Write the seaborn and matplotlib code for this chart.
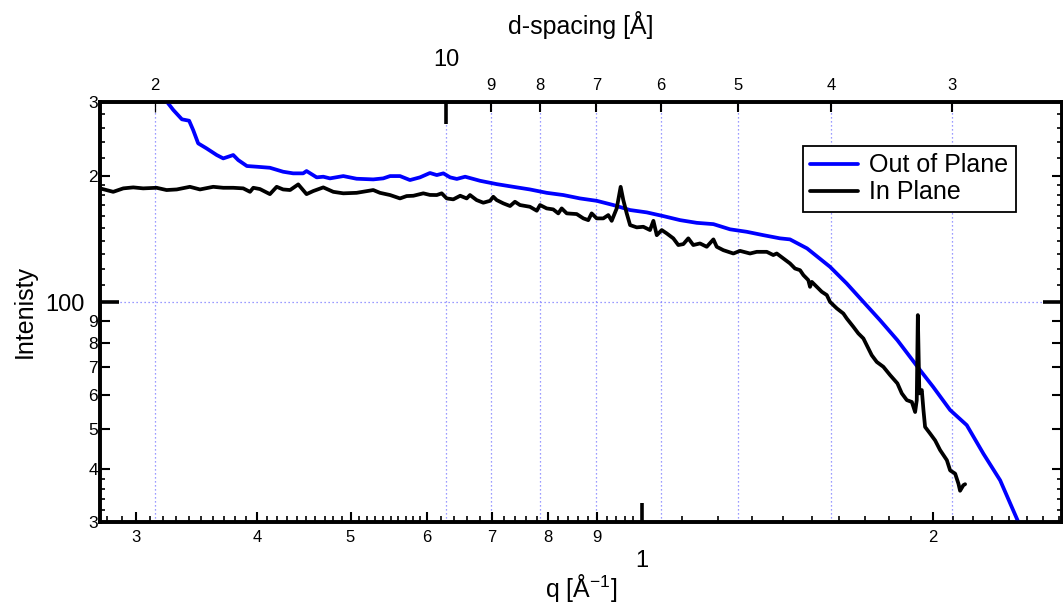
import numpy as np
import matplotlib
matplotlib.use("Agg")
import matplotlib.pyplot as plt
import seaborn as sns
from matplotlib.ticker import FixedLocator, FixedFormatter, NullFormatter, NullLocator

# ---------------- data ----------------
q_oop = [0.3176, 0.3279, 0.3347, 0.3405, 0.3438, 0.3479, 0.3549, 0.3636, 0.3693, 0.3737,
         0.3782, 0.3827, 0.3907, 0.3999, 0.4127, 0.4259, 0.4362, 0.4467, 0.4503, 0.4613,
         0.4686, 0.4761, 0.4915, 0.5073, 0.5278, 0.5405, 0.5494, 0.5625, 0.5760, 0.5899,
         0.6041, 0.6140, 0.6237, 0.6338, 0.6440, 0.6569, 0.6807, 0.7081, 0.7366, 0.7664,
         0.7976, 0.8299, 0.8634, 0.8985, 0.9348, 0.9728, 1.0121, 1.0529, 1.0957, 1.1400,
         1.1862, 1.2342, 1.2841, 1.3360, 1.3901, 1.4234, 1.4825, 1.5658, 1.6293, 1.6952,
         1.7640, 1.8383, 1.8946, 1.9405, 2.0014, 2.0840, 2.1681, 2.2560, 2.3476, 2.4421,
         2.4622]
I_oop = [315.0, 286.7, 272.4, 270.3, 256.8, 238.8, 232.3, 224.0, 219.9, 221.9,
         224.0, 217.9, 210.9, 210.1, 208.9, 204.4, 202.6, 202.6, 205.2, 198.2,
         198.9, 197.1, 199.6, 196.7, 196.0, 197.1, 199.6, 199.6, 195.3, 198.2,
         203.0, 200.7, 202.6, 198.2, 196.5, 198.9, 194.5, 191.0, 188.2, 185.5,
         182.1, 179.9, 176.6, 174.3, 170.3, 165.7, 163.6, 160.3, 156.8, 154.5,
         153.4, 149.1, 147.1, 144.4, 141.9, 141.1, 134.3, 121.4, 110.8, 100.2,
         90.6, 81.2, 74.1, 68.9, 62.9, 55.4, 51.0, 43.6, 37.7, 30.6,
         29.3]

q_ip = [0.2754, 0.2842, 0.2911, 0.2981, 0.3052, 0.3151, 0.3227, 0.3306, 0.3411, 0.3494,
        0.3606, 0.3693, 0.3782, 0.3873, 0.3936, 0.3967, 0.4030, 0.4127, 0.4194, 0.4259,
        0.4330, 0.4415, 0.4503, 0.4576, 0.4686, 0.4799, 0.4915, 0.5073, 0.5278, 0.5363,
        0.5494, 0.5625, 0.5715, 0.5807, 0.5946, 0.6041, 0.6140, 0.6212, 0.6287, 0.6386,
        0.6492, 0.6593, 0.6645, 0.6751, 0.6859, 0.6970, 0.7024, 0.7081, 0.7193, 0.7310,
        0.7396, 0.7485, 0.7664, 0.7790, 0.7851, 0.7976, 0.8101, 0.8199, 0.8266, 0.8366,
        0.8567, 0.8704, 0.8806, 0.8877, 0.8985, 0.9127, 0.9236, 0.9311, 0.9423, 0.9512,
        0.9572, 0.9650, 0.9728, 0.9883, 1.0039, 1.0200, 1.0283, 1.0366, 1.0489, 1.0614,
        1.0782, 1.0911, 1.1043, 1.1174, 1.1307, 1.1490, 1.1675, 1.1862, 1.1956, 1.2146,
        1.2440, 1.2637, 1.2942, 1.3152, 1.3255, 1.3469, 1.3679, 1.3793, 1.4011, 1.4234,
        1.4405, 1.4579, 1.4697, 1.4868, 1.4930, 1.4993, 1.5171, 1.5353, 1.5538, 1.5658,
        1.5911, 1.6163, 1.6293, 1.6552, 1.6749, 1.6952, 1.7154, 1.7293, 1.7501, 1.7778,
        1.8064, 1.8383, 1.8575, 1.8798, 1.9025, 1.9174, 1.9249, 1.9298, 1.9369, 1.9482,
        1.9558, 1.9634, 1.9870, 2.0110, 2.0347, 2.0678, 2.0840, 2.1091, 2.1257, 2.1340,
        2.1507, 2.1597]
I_ip = [186.6, 183.1, 186.6, 187.6, 186.6, 187.2, 184.9, 185.5, 188.2, 185.5,
        188.2, 187.2, 187.2, 186.6, 183.1, 187.2, 185.9, 180.8, 188.2, 185.5,
        184.9, 190.7, 180.8, 183.9, 187.6, 183.1, 181.6, 182.1, 184.9, 182.1,
        179.9, 176.6, 178.9, 179.2, 181.6, 180.0, 179.9, 181.6, 176.6, 175.7,
        179.2, 176.6, 179.9, 175.0, 172.5, 174.3, 178.2, 175.0, 171.9, 169.4,
        173.4, 170.3, 168.7, 165.1, 170.3, 167.2, 166.3, 162.7, 167.2, 162.7,
        162.1, 158.3, 156.8, 162.7, 158.3, 158.3, 161.2, 156.2, 167.2, 188.2,
        175.0, 162.7, 152.6, 150.7, 151.2, 148.5, 156.2, 144.4, 148.5, 145.8,
        141.9, 136.8, 137.5, 141.9, 136.8, 138.0, 135.5, 141.1, 135.5, 133.0,
        130.6, 132.5, 130.6, 131.8, 131.8, 131.8, 129.5, 130.6, 127.1, 123.7,
        120.3, 119.2, 116.0, 112.9, 108.8, 111.8, 108.8, 105.9, 104.0, 100.2,
        96.7, 94.0, 91.5, 87.4, 84.3, 82.0, 77.6, 74.8, 72.1, 70.2,
        67.1, 64.1, 60.7, 58.5, 57.9, 54.8, 58.5, 93.2, 60.7, 61.8,
        55.4, 50.5, 48.7, 46.9, 44.5, 42.1, 39.8, 39.1, 37.0, 35.6,
        36.7, 36.9]

series_names = ["Out of Plane", "In Plane"]
series_colors = ["#0000ff", "#000000"]

# axis ranges and tick tables
x_range = [0.2754, 2.72]
y_range = [30, 300]
x_label_ticks = [0.3, 0.4, 0.5, 0.6, 0.7, 0.8, 0.9, 1.0, 2.0]
x_label_text = ["3", "4", "5", "6", "7", "8", "9", "1", "2"]
x_big = 1.0
y_label_ticks = [30, 40, 50, 60, 70, 80, 90, 100, 200, 300]
y_label_text = ["3", "4", "5", "6", "7", "8", "9", "100", "2", "3"]
y_big = 100
d_ticks = [20, 10, 9, 8, 7, 6, 5, 4, 3]
d_text = ["2", "10", "9", "8", "7", "6", "5", "4", "3"]
d_big = 10
d_thin = 20

x_minor = sorted(set(np.round(np.concatenate([
    np.arange(0.28, 0.60, 0.01),
    np.arange(0.62, 1.00, 0.02),
    np.arange(1.1, 2.0, 0.1),
    np.arange(2.1, 2.75, 0.1)]), 2)) - set(x_label_ticks))
y_minor = [32, 34, 36, 38, 110, 120, 130, 140, 150, 160, 170, 180, 190, 220, 240, 260, 280]

# ---------------- style ----------------
sns.set_theme(style="white")
plt.rcParams["font.family"] = ["Liberation Sans", "DejaVu Sans"]
plt.rcParams["mathtext.fontset"] = "custom"
plt.rcParams["mathtext.rm"] = "Liberation Sans"
plt.rcParams["mathtext.it"] = "Liberation Sans"
plt.rcParams["text.color"] = "black"
plt.rcParams["axes.labelcolor"] = "black"
plt.rcParams["xtick.color"] = "black"
plt.rcParams["ytick.color"] = "black"
plt.rcParams["xtick.labelcolor"] = "black"
plt.rcParams["ytick.labelcolor"] = "black"

W, H = 1063, 603
LW = 2.7
fig = plt.figure(figsize=(W / 100, H / 100), dpi=100)
fig.patch.set_facecolor("white")
ax = fig.add_axes([100 / W, 81 / H, 962 / W, 420.3 / H])

ax2 = ax.twiny()

sns.lineplot(x=q_oop, y=I_oop, color=series_colors[0], label=series_names[0],
             sort=False, estimator=None, linewidth=LW, ax=ax)
sns.lineplot(x=q_ip, y=I_ip, color=series_colors[1], label=series_names[1],
             sort=False, estimator=None, linewidth=LW, ax=ax)

ax.set_xscale("log")
ax.set_yscale("log")
ax.set_xlim(*x_range)
ax.set_ylim(*y_range)

ax.xaxis.set_major_locator(FixedLocator(x_label_ticks))
ax.xaxis.set_major_formatter(FixedFormatter(x_label_text))
ax.xaxis.set_minor_locator(FixedLocator(x_minor))
ax.xaxis.set_minor_formatter(NullFormatter())
ax.yaxis.set_major_locator(FixedLocator(y_label_ticks))
ax.yaxis.set_major_formatter(FixedFormatter(y_label_text))
ax.yaxis.set_minor_locator(FixedLocator(y_minor))
ax.yaxis.set_minor_formatter(NullFormatter())

ax.tick_params(axis="x", which="major", direction="in", length=7, width=1.5,
               labelsize=12, pad=6, bottom=True, top=False, colors="black")
ax.tick_params(axis="x", which="minor", direction="in", length=4.2, width=1.2,
               bottom=True, top=False, colors="black")
ax.tick_params(axis="y", which="major", direction="in", length=7, width=1.5,
               labelsize=12.5, pad=1.5, left=True, right=True, colors="black")
ax.tick_params(axis="y", which="minor", direction="in", length=3.6, width=1.2,
               left=True, right=True, colors="black")

# top d-spacing axis
d_range = [2 * np.pi / x_range[0], 2 * np.pi / x_range[1]]
ax2.set_xscale("log")
ax2.set_xlim(*d_range)
ax2.xaxis.set_major_locator(FixedLocator(d_ticks))
ax2.xaxis.set_major_formatter(FixedFormatter(d_text))
ax2.xaxis.set_minor_locator(NullLocator())
ax2.tick_params(axis="x", which="major", direction="in", length=7, width=1.5,
                labelsize=12, pad=6, top=True, bottom=False, labeltop=True,
                labelbottom=False, colors="black")
ax2.xaxis.grid(True, which="major", color="#7b7bff", linestyle=(0, (1, 2.2)), linewidth=0.9)

# layering: curves above the top-axis grid
ax2.set_zorder(1)
ax.set_zorder(2)
ax.patch.set_visible(False)
ax2.patch.set_visible(True)
ax2.patch.set_facecolor("white")

for a in (ax, ax2):
    for s in a.spines.values():
        s.set_linewidth(2.6)
        s.set_color("black")
        s.set_visible(True)

ax.set_xlabel("q [Å$^{-1}$]", fontsize=18, color="black")
ax.xaxis.set_label_coords(0.5, -0.118)
ax.set_ylabel("Intenisty", fontsize=18, color="black")
ax.yaxis.set_label_coords(-0.066, 0.5)
ax2.set_xlabel("d-spacing [Å]", fontsize=18, color="black")
ax2.xaxis.set_label_coords(0.5, 1.162)

leg = ax.legend(loc="upper right", bbox_to_anchor=(0.952, 0.895), frameon=True,
                fancybox=False, edgecolor="black", framealpha=1, fontsize=18,
                handlelength=1.9, handletextpad=0.45, borderpad=0.3,
                labelspacing=0.12, borderaxespad=0.0)
leg.get_frame().set_linewidth(1.3)
for h in leg.get_lines():
    h.set_linewidth(LW)
for txt in leg.get_texts():
    txt.set_color("black")

ax.grid(False)

# per-tick styling (big ticks, grid at y=100)
def style_big(tick, size, width, fontsize, pad):
    tick.set_pad(pad)
    for ln in (tick.tick1line, tick.tick2line):
        ln.set_markersize(size)
        ln.set_markeredgewidth(width)
    tick.label1.set_fontsize(fontsize)
    tick.label2.set_fontsize(fontsize)

for t, v in zip(ax.xaxis.get_major_ticks(), x_label_ticks):
    if v == x_big:
        style_big(t, 14, 2.6, 17, 20)
for t, v in zip(ax.yaxis.get_major_ticks(), y_label_ticks):
    if v == y_big:
        style_big(t, 14, 2.6, 17, 11)
        t.gridline.set_visible(True)
        t.gridline.set_color("#7b7bff")
        t.gridline.set_linestyle((0, (1, 2.2)))
        t.gridline.set_linewidth(0.9)
    else:
        t.gridline.set_visible(False)
for t, v in zip(ax2.xaxis.get_major_ticks(), d_ticks):
    if v == d_big:
        style_big(t, 16, 2.6, 17, 22)
    elif v == d_thin:
        for ln in (t.tick1line, t.tick2line):
            ln.set_markeredgewidth(0.9)

fig.savefig("out.png", dpi=100, facecolor="white")
